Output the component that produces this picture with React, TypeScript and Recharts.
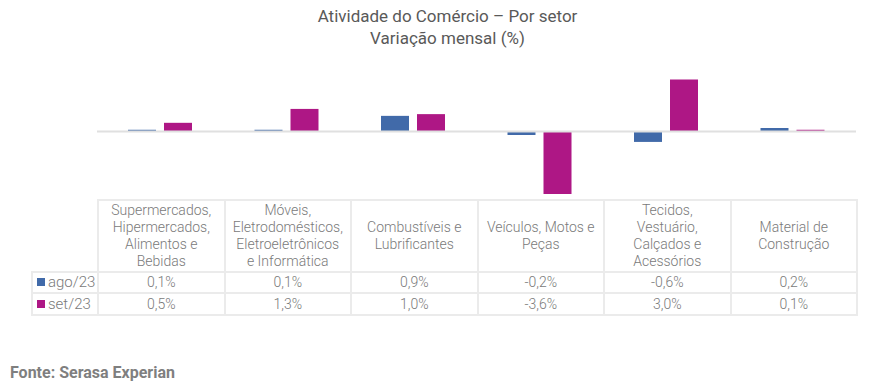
import React from "react";
import { BarChart, Bar, XAxis, YAxis, ReferenceLine } from "recharts";

const categories = [
  "Supermercados,\nHipermercados,\nAlimentos e\nBebidas",
  "Móveis,\nEletrodomésticos,\nEletroeletrônicos\ne Informática",
  "Combustíveis e\nLubrificantes",
  "Veículos, Motos e\nPeças",
  "Tecidos,\nVestuário,\nCalçados e\nAcessórios",
  "Material de\nConstrução",
];
const ago23 = [0.1, 0.1, 0.9, -0.2, -0.6, 0.2];
const set23 = [0.5, 1.3, 1.0, -3.6, 3.0, 0.1];
const seriesNames = ["ago/23", "set/23"];
const colors = ["#416AA9", "#AE1785"];
const title1 = "Atividade do Comércio – Por setor";
const title2 = "Variação mensal (%)";
const source = "Fonte: Serasa Experian";

const W = 895;
const H = 391;
const plotLeft = 97;
const plotRight = 856;
const plotTop = 62;
const plotBottom = 201;
const colW = (plotRight - plotLeft) / categories.length;
const legendLeft = 31;
const textColor = "#7a7a7a";
const borderColor = "#ebebeb";
const font = "Roboto, 'Noto Sans', sans-serif";

const data = categories.map((c, i) => ({ name: c, ago: ago23[i], set: set23[i] }));
const fmt = (v: number) => v.toFixed(1).replace(".", ",") + "%";

export default function App() {
  const cell: React.CSSProperties = {
    border: `2px solid ${borderColor}`,
    padding: 0,
    textAlign: "center",
    color: textColor,
    fontSize: 14,
    fontWeight: 300,
    lineHeight: "17px",
  };
  const rows = [ago23, set23];
  return (
    <div style={{ position: "absolute", left: 0, top: 0, width: W, height: H, background: "#fff", fontFamily: font }}>
      <div style={{ position: "absolute", left: 0, top: 5, width: W, textAlign: "center", color: "#595959", fontSize: 17, lineHeight: "22px" }}>
        <div>{title1}</div>
        <div>{title2}</div>
      </div>
      <div style={{ position: "absolute", left: 0, top: 0 }}>
        <BarChart
          width={W}
          height={H}
          data={data}
          margin={{ top: plotTop, bottom: H - plotBottom, left: plotLeft, right: W - plotRight }}
          barSize={28}
          barGap={8}
        >
          <XAxis dataKey="name" hide />
          <YAxis hide domain={[-4, 4]} />
          <ReferenceLine y={0} stroke="#e0e0e0" strokeWidth={2} />
          <Bar dataKey="ago" fill={colors[0]} isAnimationActive={false} />
          <Bar dataKey="set" fill={colors[1]} isAnimationActive={false} />
        </BarChart>
      </div>
      <table
        style={{
          position: "absolute",
          left: legendLeft,
          top: plotBottom - 2,
          borderCollapse: "collapse",
          tableLayout: "fixed",
          width: plotRight - legendLeft,
          fontFamily: font,
        }}
      >
        <colgroup>
          <col style={{ width: plotLeft - legendLeft }} />
          {categories.map((_, i) => (
            <col key={i} style={{ width: colW }} />
          ))}
        </colgroup>
        <tbody>
          <tr style={{ height: 72 }}>
            <td style={{ border: "none", padding: 0 }} />
            {categories.map((c, i) => (
              <td key={i} style={{ ...cell, whiteSpace: "pre-line", verticalAlign: "middle" }}>
                {c}
              </td>
            ))}
          </tr>
          {rows.map((r, ri) => (
            <tr key={ri} style={{ height: ri === 0 ? 21 : 22 }}>
              <td style={{ ...cell, textAlign: "left", fontSize: 15, paddingLeft: 4, whiteSpace: "nowrap" }}>
                <span style={{ display: "inline-block", width: 8, height: 8, background: colors[ri], marginRight: 3, verticalAlign: "1px" }} />
                {seriesNames[ri]}
              </td>
              {r.map((v, i) => (
                <td key={i} style={cell}>
                  {fmt(v)}
                </td>
              ))}
            </tr>
          ))}
        </tbody>
      </table>
      <div style={{ position: "absolute", left: 10, top: 363, fontSize: 16, fontWeight: 700, color: "#7f7f7f" }}>{source}</div>
    </div>
  );
}
